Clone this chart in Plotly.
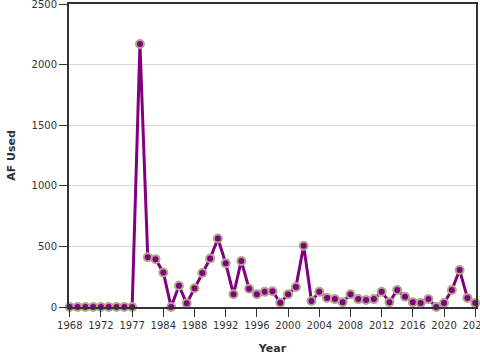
import plotly.graph_objects as go

years = ["1968", "1969", "1970", "1971", "1972", "1973", "1975", "1976", "1977",
         "1978", "1980", "1983", "1984", "1985", "1986", "1987", "1988", "1989",
         "1990", "1991", "1992", "1993", "1994", "1995", "1996", "1997", "1998",
         "1999", "2000", "2001", "2002", "2003", "2004", "2005", "2006", "2007",
         "2008", "2009", "2010", "2011", "2012", "2013", "2014", "2015", "2016",
         "2017", "2018", "2019", "2020", "2021", "2022", "2023", "2024"]
af_used = [0, 0, 0, 0, 0, 0, 0, 0, 0,
           2170, 410, 395, 285, 0, 175, 30, 155, 280,
           400, 565, 360, 105, 380, 150, 105, 125, 130,
           35, 105, 165, 505, 50, 125, 75, 65, 40,
           105, 65, 58, 65, 125, 40, 140, 85, 40,
           33, 65, 0, 33, 140, 305, 75, 33]
tick_labels = years[::4]

fig = go.Figure(go.Scatter(
    x=years, y=af_used, mode="lines+markers",
    line=dict(color="#800080", width=3),
    marker=dict(color="#800080", size=8, line=dict(color="#b0a88a", width=2)),
    cliponaxis=False,
))

axis_font = dict(family="DejaVu Sans", size=10, color="#333")
fig.update_layout(
    width=480, height=360,
    margin=dict(l=69, r=4, t=4, b=53),
    paper_bgcolor="white", plot_bgcolor="white",
    showlegend=False,
    font=axis_font,
    xaxis=dict(
        type="category", range=[-0.1, 52.1], automargin=False,
        tickmode="array", tickvals=tick_labels, ticktext=tick_labels,
        ticks="outside", ticklen=8, tickcolor="#333", tickwidth=1,
        ticklabeloverflow="allow",
        showline=True, linecolor="#333", linewidth=2, mirror=True,
        showgrid=False, zeroline=False, tickangle=0,
        title=dict(text="<b>Year</b>", font=dict(family="DejaVu Sans", size=11, color="#333"), standoff=14),
    ),
    yaxis=dict(
        range=[0, 2500], dtick=500, automargin=False,
        ticks="outside", ticklen=8, tickcolor="#333",
        ticklabeloverflow="allow",
        showline=True, linecolor="#333", linewidth=2, mirror=True,
        showgrid=True, gridcolor="#d9d9d9", zeroline=False,
        title=dict(text="<b>AF Used</b>", font=dict(family="DejaVu Sans", size=11, color="#333"), standoff=14),
    ),
)

fig.write_html(
    "out.html",
    config={"displayModeBar": False},
    post_script="document.body.style.margin='0';document.body.style.overflow='hidden';",
)
